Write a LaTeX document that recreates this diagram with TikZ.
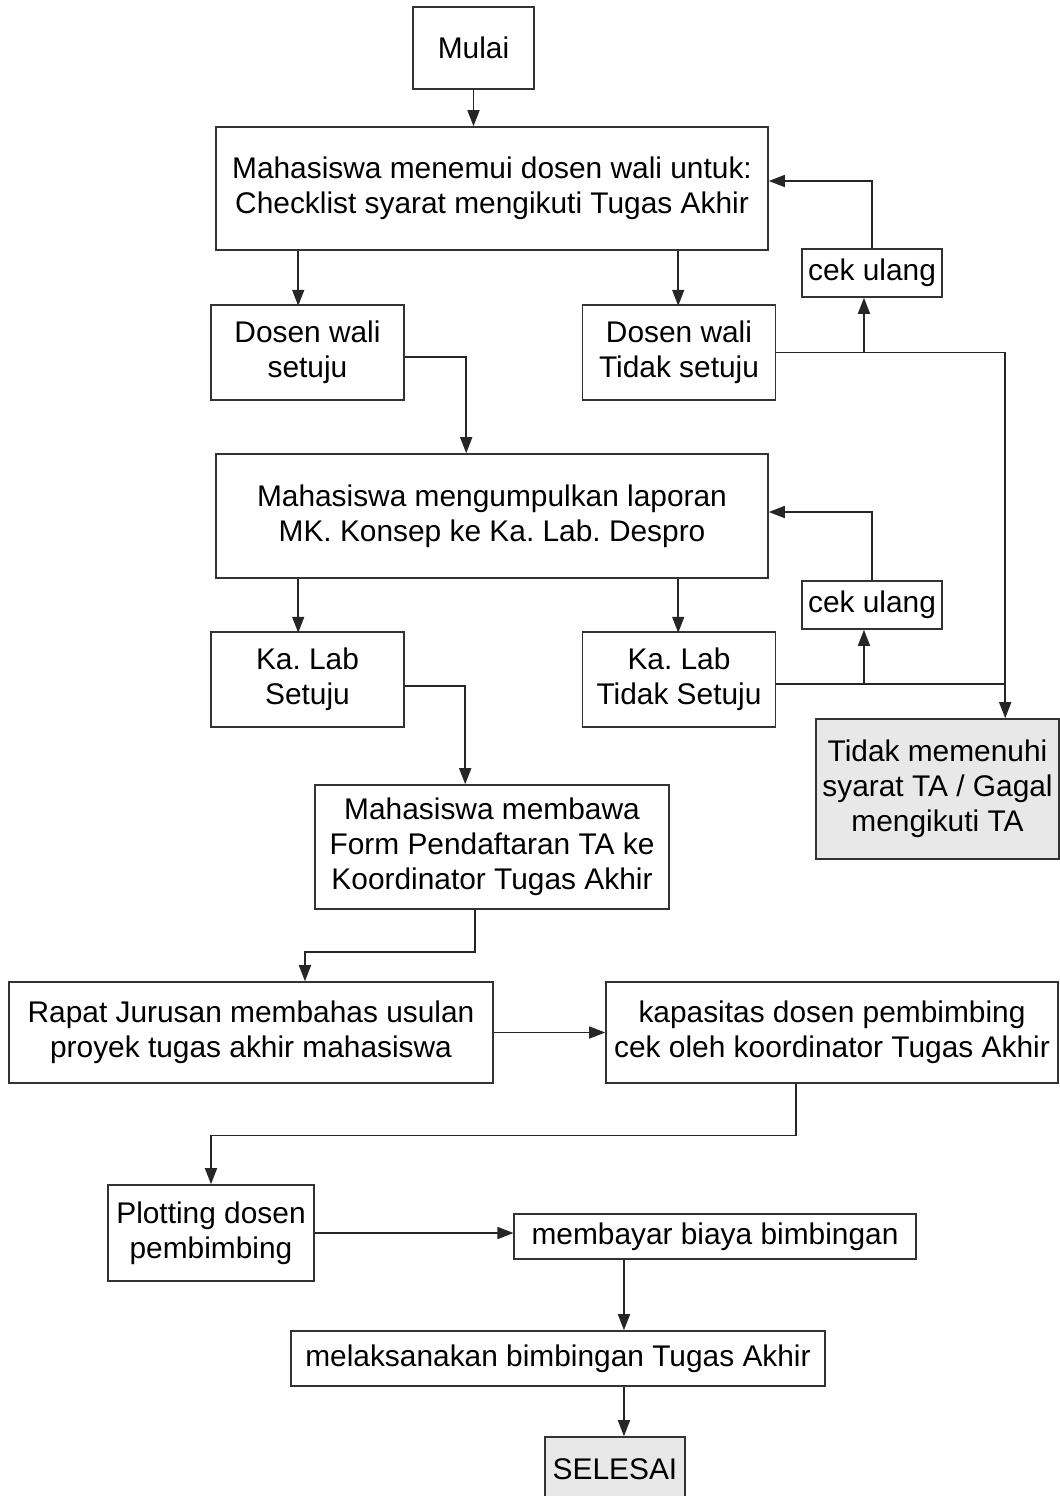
\documentclass[tikz,border=0pt]{standalone}
\usepackage{fontspec}
\setmainfont{Liberation Sans}
\usetikzlibrary{arrows.meta}
\frenchspacing

\tikzset{
  box/.style={draw=black!80, line width=0.9pt, align=center, inner sep=0pt,
              font=\fontsize{17}{20}\selectfont},
  endbox/.style={box, fill=black!9},
  arr/.style={draw=black!85, line width=0.9pt, -{Triangle[length=3.2mm,width=2.4mm]}},
  line/.style={draw=black!85, line width=0.9pt},
}

\begin{document}
\begin{tikzpicture}
%\draw[step=1cm,gray,very thin] (0,-30) grid (21,0); %background grid
\useasboundingbox (0,0) rectangle (21.2,-29.92);

\node[box, minimum width=2.42cm, minimum height=1.64cm] (mulai) at (9.47,-0.96) {Mulai};

\node[box, minimum width=11.04cm, minimum height=2.46cm] (menemui) at (9.84,-3.77)
  {Mahasiswa menemui dosen wali untuk:\\Checklist syarat mengikuti Tugas Akhir};

\node[box, minimum width=3.86cm, minimum height=1.9cm] (dwsetuju) at (6.15,-7.05) {Dosen wali\\setuju};
\node[box, minimum width=3.86cm, minimum height=1.9cm] (dwtidak)  at (13.58,-7.05) {Dosen wali\\Tidak setuju};
\node[box, minimum width=2.81cm, minimum height=0.96cm] (cekA) at (17.44,-5.46) {cek ulang};

\node[box, minimum width=11.04cm, minimum height=2.48cm] (kumpul) at (9.84,-10.32)
  {Mahasiswa mengumpulkan laporan\\MK. Konsep ke Ka. Lab. Despro};

\node[box, minimum width=3.86cm, minimum height=1.9cm] (klsetuju) at (6.15,-13.59) {Ka. Lab\\Setuju};
\node[box, minimum width=3.86cm, minimum height=1.9cm] (kltidak)  at (13.58,-13.59) {Ka. Lab\\Tidak Setuju};
\node[box, minimum width=2.81cm, minimum height=0.96cm] (cekB) at (17.44,-12.10) {cek ulang};

\node[endbox, minimum width=4.86cm, minimum height=2.8cm] (gagal) at (18.75,-15.78)
  {Tidak memenuhi\\syarat TA / Gagal\\mengikuti TA};

\node[box, minimum width=7.08cm, minimum height=2.48cm] (form) at (9.84,-16.94)
  {Mahasiswa membawa\\Form Pendaftaran TA ke\\Koordinator Tugas Akhir};

\node[box, minimum width=9.67cm, minimum height=2.02cm] (rapat) at (5.02,-20.65)
  {Rapat Jurusan membahas usulan\\proyek tugas akhir mahasiswa};
\node[box, minimum width=9.04cm, minimum height=2.02cm] (kapasitas) at (16.64,-20.65)
  {kapasitas dosen pembimbing\\cek oleh koordinator Tugas Akhir};

\node[box, minimum width=4.13cm, minimum height=1.92cm] (plotting) at (4.22,-24.66) {Plotting dosen\\pembimbing};
\node[box, minimum width=8.03cm, minimum height=0.9cm] (bayar) at (14.3,-24.73) {membayar biaya bimbingan};

\node[box, minimum width=10.69cm, minimum height=1.1cm] (bimbingan) at (11.16,-27.17) {melaksanakan bimbingan Tugas Akhir};

\node[endbox, minimum width=2.79cm, minimum height=1.3cm] (selesai) at (12.3,-29.39) {SELESAI};

% tap points
\coordinate (cA) at ([xshift=1.26cm]cekA.south west);
\coordinate (cB) at ([xshift=1.26cm]cekB.south west);
\coordinate (g1) at ([xshift=3.8cm]gagal.north west);
\coordinate (k1) at ([yshift=-0.09cm]kltidak.east);
\coordinate (m1) at ([xshift=2.21cm]bayar.south west);
\coordinate (m2) at ([xshift=6.68cm]bimbingan.south west);

% connectors
\draw[arr] (mulai.south) -- (mulai.south |- menemui.north);

\draw[arr] ([xshift=1.66cm]menemui.south west) -- ++(0,-1.1);
\draw[arr] ([xshift=9.26cm]menemui.south west) -- ++(0,-1.1);
\draw[arr] ([yshift=-0.09cm]dwsetuju.east) -| ([xshift=5.02cm]kumpul.north west);
\draw[arr] (dwtidak.east) -| (g1);
\draw[arr] (dwtidak.east -| cA) -- (cA);
\draw[arr] (cekA.north) |- ([yshift=0.15cm]menemui.east);

\draw[arr] ([xshift=1.66cm]kumpul.south west) -- ++(0,-1.08);
\draw[arr] ([xshift=9.26cm]kumpul.south west) -- ++(0,-1.08);
\draw[arr] ([yshift=-0.13cm]klsetuju.east) -| ([xshift=3.02cm]form.north west);
\draw[line] (k1) -- (k1 -| g1);
\draw[arr] (k1 -| cB) -- (cB);
\draw[arr] (cekB.north) |- ([yshift=0.08cm]kumpul.east);

\draw[arr] ([xshift=3.22cm]form.south west) -- ++(0,-0.84) -| ([xshift=5.93cm]rapat.north west);
\draw[arr] (rapat.east) -- (kapasitas.west);
\draw[arr] ([xshift=3.82cm]kapasitas.south west) -- ++(0,-1.03) -| (plotting.north);
\draw[arr] (plotting.east) -- (plotting.east -| bayar.west);
\draw[arr] (m1) -- (m1 |- bimbingan.north);
\draw[arr] (m2) -- (m2 |- selesai.north);

\end{tikzpicture}
\end{document}
